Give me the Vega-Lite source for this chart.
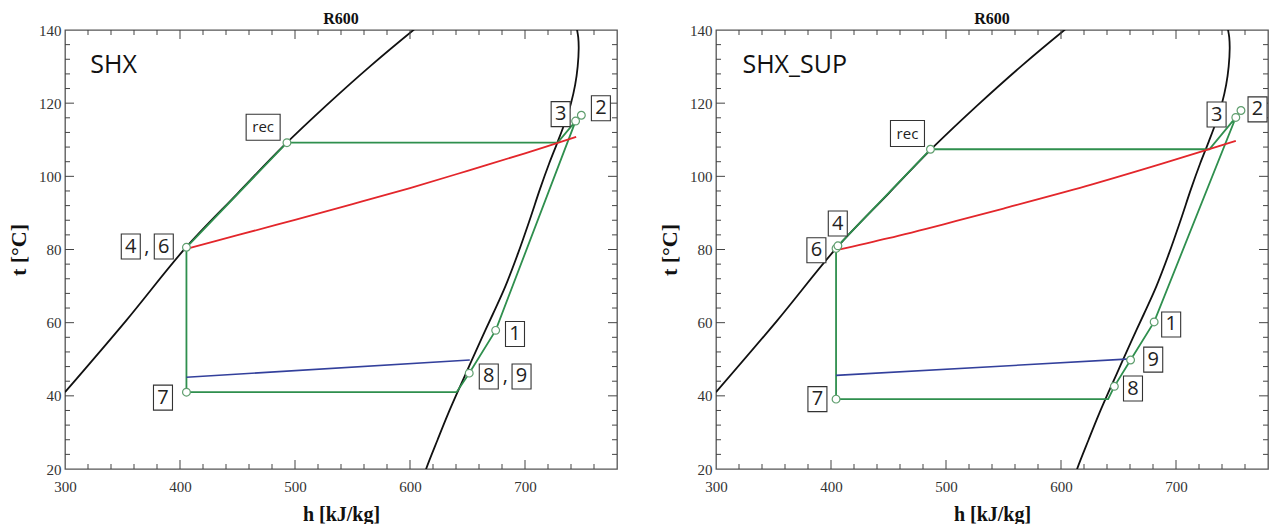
{
  "$schema": "https://vega.github.io/schema/vega-lite/v6.json",
  "background": "white",
  "padding": {"left": 6, "top": 10, "right": 0, "bottom": 0},
  "spacing": 39,
  "config": {
    "view": {"stroke": "#555", "strokeWidth": 1.3},
    "axis": {"grid": false, "domain": false, "ticks": false}
  },
  "datasets": {
    "xt": [
      {"v": 320, "major": false}, {"v": 340, "major": false}, {"v": 360, "major": false}, {"v": 380, "major": false},
      {"v": 400, "major": true}, {"v": 420, "major": false}, {"v": 440, "major": false}, {"v": 460, "major": false},
      {"v": 480, "major": false}, {"v": 500, "major": true}, {"v": 520, "major": false}, {"v": 540, "major": false},
      {"v": 560, "major": false}, {"v": 580, "major": false}, {"v": 600, "major": true}, {"v": 620, "major": false},
      {"v": 640, "major": false}, {"v": 660, "major": false}, {"v": 680, "major": false}, {"v": 700, "major": true},
      {"v": 720, "major": false}, {"v": 740, "major": false}, {"v": 760, "major": false}
    ],
    "yt": [
      {"v": 24, "major": false}, {"v": 28, "major": false}, {"v": 32, "major": false}, {"v": 36, "major": false},
      {"v": 40, "major": true}, {"v": 44, "major": false}, {"v": 48, "major": false}, {"v": 52, "major": false},
      {"v": 56, "major": false}, {"v": 60, "major": true}, {"v": 64, "major": false}, {"v": 68, "major": false},
      {"v": 72, "major": false}, {"v": 76, "major": false}, {"v": 80, "major": true}, {"v": 84, "major": false},
      {"v": 88, "major": false}, {"v": 92, "major": false}, {"v": 96, "major": false}, {"v": 100, "major": true},
      {"v": 104, "major": false}, {"v": 108, "major": false}, {"v": 112, "major": false}, {"v": 116, "major": false},
      {"v": 120, "major": true}, {"v": 124, "major": false}, {"v": 128, "major": false}, {"v": 132, "major": false},
      {"v": 136, "major": false}
    ],
    "sat": [
      {"branch": "liq", "i": 0, "h": 300, "t": 41},
      {"branch": "liq", "i": 1, "h": 353, "t": 60.5},
      {"branch": "liq", "i": 2, "h": 405, "t": 80.5},
      {"branch": "liq", "i": 3, "h": 450, "t": 95.3},
      {"branch": "liq", "i": 4, "h": 490, "t": 108.3},
      {"branch": "liq", "i": 5, "h": 528, "t": 119.6},
      {"branch": "liq", "i": 6, "h": 565, "t": 130},
      {"branch": "liq", "i": 7, "h": 603, "t": 140},
      {"branch": "liq", "i": 8, "h": 615, "t": 143},
      {"branch": "vap", "i": 0, "h": 610, "t": 16},
      {"branch": "vap", "i": 1, "h": 614, "t": 20},
      {"branch": "vap", "i": 2, "h": 624, "t": 28},
      {"branch": "vap", "i": 3, "h": 633, "t": 35},
      {"branch": "vap", "i": 4, "h": 642, "t": 41.5},
      {"branch": "vap", "i": 5, "h": 652, "t": 48.5},
      {"branch": "vap", "i": 6, "h": 662, "t": 55.5},
      {"branch": "vap", "i": 7, "h": 672, "t": 62.3},
      {"branch": "vap", "i": 8, "h": 683, "t": 70},
      {"branch": "vap", "i": 9, "h": 694, "t": 79},
      {"branch": "vap", "i": 10, "h": 704, "t": 88},
      {"branch": "vap", "i": 11, "h": 713, "t": 96.5},
      {"branch": "vap", "i": 12, "h": 721, "t": 103.5},
      {"branch": "vap", "i": 13, "h": 728.5, "t": 109.5},
      {"branch": "vap", "i": 14, "h": 735, "t": 115},
      {"branch": "vap", "i": 15, "h": 740, "t": 120},
      {"branch": "vap", "i": 16, "h": 743.6, "t": 125},
      {"branch": "vap", "i": 17, "h": 745.8, "t": 130},
      {"branch": "vap", "i": 18, "h": 746.7, "t": 135},
      {"branch": "vap", "i": 19, "h": 746.3, "t": 138},
      {"branch": "vap", "i": 20, "h": 745.3, "t": 140},
      {"branch": "vap", "i": 21, "h": 744.5, "t": 141.5}
    ],
    "cycle": [
      {"panel": "SHX", "i": 0, "h": 493, "t": 109.2},
      {"panel": "SHX", "i": 1, "h": 728.4, "t": 109.2},
      {"panel": "SHX", "i": 2, "h": 744, "t": 115.1},
      {"panel": "SHX", "i": 3, "h": 749, "t": 116.7},
      {"panel": "SHX", "i": 4, "h": 744, "t": 115.1},
      {"panel": "SHX", "i": 5, "h": 674.5, "t": 57.9},
      {"panel": "SHX", "i": 6, "h": 651.5, "t": 46.2},
      {"panel": "SHX", "i": 7, "h": 640.5, "t": 41},
      {"panel": "SHX", "i": 8, "h": 405.6, "t": 41},
      {"panel": "SHX", "i": 9, "h": 405.6, "t": 80.6},
      {"panel": "SHX", "i": 10, "h": 493, "t": 109.2},
      {"panel": "SHX_SUP", "i": 0, "h": 486.5, "t": 107.4},
      {"panel": "SHX_SUP", "i": 1, "h": 729, "t": 107.4},
      {"panel": "SHX_SUP", "i": 2, "h": 752, "t": 116.1},
      {"panel": "SHX_SUP", "i": 3, "h": 756.5, "t": 118},
      {"panel": "SHX_SUP", "i": 4, "h": 752, "t": 116.1},
      {"panel": "SHX_SUP", "i": 5, "h": 681, "t": 60.2},
      {"panel": "SHX_SUP", "i": 6, "h": 660.5, "t": 49.8},
      {"panel": "SHX_SUP", "i": 7, "h": 646.4, "t": 42.6},
      {"panel": "SHX_SUP", "i": 8, "h": 641, "t": 39.1},
      {"panel": "SHX_SUP", "i": 9, "h": 404.4, "t": 39.1},
      {"panel": "SHX_SUP", "i": 10, "h": 404.4, "t": 80.3},
      {"panel": "SHX_SUP", "i": 11, "h": 406, "t": 81},
      {"panel": "SHX_SUP", "i": 12, "h": 486.5, "t": 107.4}
    ],
    "red": [
      {"panel": "SHX", "i": 0, "h": 405.6, "t": 80.2},
      {"panel": "SHX", "i": 1, "h": 450, "t": 83.9},
      {"panel": "SHX", "i": 2, "h": 500, "t": 88.1},
      {"panel": "SHX", "i": 3, "h": 550, "t": 92.4},
      {"panel": "SHX", "i": 4, "h": 600, "t": 96.8},
      {"panel": "SHX", "i": 5, "h": 650, "t": 101.5},
      {"panel": "SHX", "i": 6, "h": 700, "t": 106.3},
      {"panel": "SHX", "i": 7, "h": 744.5, "t": 110.8},
      {"panel": "SHX_SUP", "i": 0, "h": 404.4, "t": 79.8},
      {"panel": "SHX_SUP", "i": 1, "h": 450, "t": 83.1},
      {"panel": "SHX_SUP", "i": 2, "h": 498, "t": 86.9},
      {"panel": "SHX_SUP", "i": 3, "h": 550, "t": 91.2},
      {"panel": "SHX_SUP", "i": 4, "h": 621.7, "t": 97.3},
      {"panel": "SHX_SUP", "i": 5, "h": 680, "t": 102.7},
      {"panel": "SHX_SUP", "i": 6, "h": 727.5, "t": 107.3},
      {"panel": "SHX_SUP", "i": 7, "h": 752, "t": 109.7}
    ],
    "blue": [
      {"panel": "SHX", "i": 0, "h": 405.6, "t": 45.1},
      {"panel": "SHX", "i": 1, "h": 652, "t": 49.8},
      {"panel": "SHX_SUP", "i": 0, "h": 404.4, "t": 45.6},
      {"panel": "SHX_SUP", "i": 1, "h": 660.5, "t": 50.1}
    ],
    "pts": [
      {"panel": "SHX", "h": 493, "t": 109.2},
      {"panel": "SHX", "h": 744, "t": 115.1},
      {"panel": "SHX", "h": 749, "t": 116.7},
      {"panel": "SHX", "h": 674.5, "t": 57.9},
      {"panel": "SHX", "h": 651.5, "t": 46.2},
      {"panel": "SHX", "h": 405.6, "t": 41},
      {"panel": "SHX", "h": 405.6, "t": 80.6},
      {"panel": "SHX_SUP", "h": 486.5, "t": 107.4},
      {"panel": "SHX_SUP", "h": 752, "t": 116.1},
      {"panel": "SHX_SUP", "h": 756.5, "t": 118},
      {"panel": "SHX_SUP", "h": 681, "t": 60.2},
      {"panel": "SHX_SUP", "h": 660.5, "t": 49.8},
      {"panel": "SHX_SUP", "h": 646.4, "t": 42.6},
      {"panel": "SHX_SUP", "h": 404.4, "t": 39.1},
      {"panel": "SHX_SUP", "h": 404.4, "t": 80.3},
      {"panel": "SHX_SUP", "h": 406, "t": 81}
    ],
    "labels": [
      {"panel": "SHX", "kind": "rec", "text": "rec", "h": 472.3, "t": 113.4},
      {"panel": "SHX", "kind": "d", "text": "3", "h": 731, "t": 117},
      {"panel": "SHX", "kind": "d", "text": "2", "h": 766, "t": 118.6},
      {"panel": "SHX", "kind": "d", "text": "1", "h": 691.3, "t": 56.9},
      {"panel": "SHX", "kind": "d", "text": "8", "h": 668.5, "t": 45.3},
      {"panel": "SHX", "kind": "c", "text": ",", "h": 683, "t": 45.3},
      {"panel": "SHX", "kind": "d", "text": "9", "h": 697, "t": 45.3},
      {"panel": "SHX", "kind": "d", "text": "7", "h": 385.2, "t": 39.5},
      {"panel": "SHX", "kind": "d", "text": "4", "h": 357.2, "t": 80.8},
      {"panel": "SHX", "kind": "c", "text": ",", "h": 371.1, "t": 80.8},
      {"panel": "SHX", "kind": "d", "text": "6", "h": 385.9, "t": 80.8},
      {"panel": "SHX_SUP", "kind": "rec", "text": "rec", "h": 466.5, "t": 111.7},
      {"panel": "SHX_SUP", "kind": "d", "text": "3", "h": 735.3, "t": 116.9},
      {"panel": "SHX_SUP", "kind": "d", "text": "2", "h": 770.9, "t": 118.3},
      {"panel": "SHX_SUP", "kind": "d", "text": "4", "h": 405.9, "t": 87.1},
      {"panel": "SHX_SUP", "kind": "d", "text": "6", "h": 387.3, "t": 79.8},
      {"panel": "SHX_SUP", "kind": "d", "text": "1", "h": 695.8, "t": 59.5},
      {"panel": "SHX_SUP", "kind": "d", "text": "9", "h": 680.2, "t": 49.9},
      {"panel": "SHX_SUP", "kind": "d", "text": "8", "h": 662.6, "t": 42},
      {"panel": "SHX_SUP", "kind": "d", "text": "7", "h": 388.2, "t": 39.1}
    ],
    "names": [
      {"panel": "SHX", "text": "SHX", "h": 322, "t": 130.5},
      {"panel": "SHX_SUP", "text": "SHX_SUP", "h": 323, "t": 130.5}
    ]
  },
  "hconcat": [
    {
      "width": 552,
      "height": 439,
      "title": {"text": "R600", "font": "Liberation Serif", "fontSize": 16, "fontWeight": "bold", "color": "#111", "offset": -4, "anchor": "middle"},
      "resolve": {"axis": {"x": "independent", "y": "independent"}},
      "layer": [
        {
          "data": {"name": "sat"},
          "mark": {"type": "line", "color": "#111", "strokeWidth": 1.8, "clip": true, "interpolate": "catmull-rom"},
          "encoding": {
            "x": {"field": "h", "type": "quantitative", "scale": {"domain": [300, 780], "nice": false, "zero": false},
              "axis": {"orient": "bottom", "values": [300, 400, 500, 600, 700], "labelOverlap": false, "labelFlush": false,
                "labelPadding": 10, "labelFont": "Liberation Serif", "labelFontSize": 15, "labelColor": "#333",
                "title": "h [kJ/kg]", "titleFont": "Liberation Serif", "titleFontSize": 20, "titleFontWeight": "bold", "titleColor": "#111", "titlePadding": 10}},
            "y": {"field": "t", "type": "quantitative", "scale": {"domain": [20, 140], "nice": false, "zero": false},
              "axis": {"orient": "left", "values": [20, 40, 60, 80, 100, 120, 140], "labelOverlap": false, "labelFlush": false,
                "labelPadding": 4, "labelFont": "Liberation Serif", "labelFontSize": 15, "labelColor": "#333",
                "title": "t [°C]", "titleFont": "Liberation Serif", "titleFontSize": 22, "titleFontWeight": "bold", "titleColor": "#111", "titlePadding": 8}},
            "detail": {"field": "branch"},
            "order": {"field": "i", "type": "quantitative"}
          }
        },
        {
          "data": {"name": "xt"},
          "mark": {"type": "tick", "orient": "vertical", "thickness": 1, "color": "#444", "opacity": 1, "clip": true},
          "encoding": {
            "x": {"field": "v", "type": "quantitative", "axis": null},
            "y": {"datum": 20, "type": "quantitative", "axis": null},
            "size": {"condition": {"test": "datum.major", "value": 18}, "value": 10}
          }
        },
        {
          "data": {"name": "xt"},
          "mark": {"type": "tick", "orient": "vertical", "thickness": 1, "color": "#444", "opacity": 1, "clip": true},
          "encoding": {
            "x": {"field": "v", "type": "quantitative", "axis": null},
            "y": {"datum": 140, "type": "quantitative", "axis": null},
            "size": {"condition": {"test": "datum.major", "value": 18}, "value": 10}
          }
        },
        {
          "data": {"name": "yt"},
          "mark": {"type": "tick", "orient": "horizontal", "thickness": 1, "color": "#444", "opacity": 1, "clip": true},
          "encoding": {
            "y": {"field": "v", "type": "quantitative", "axis": null},
            "x": {"datum": 300, "type": "quantitative", "axis": null},
            "size": {"condition": {"test": "datum.major", "value": 18}, "value": 10}
          }
        },
        {
          "data": {"name": "yt"},
          "mark": {"type": "tick", "orient": "horizontal", "thickness": 1, "color": "#444", "opacity": 1, "clip": true},
          "encoding": {
            "y": {"field": "v", "type": "quantitative", "axis": null},
            "x": {"datum": 780, "type": "quantitative", "axis": null},
            "size": {"condition": {"test": "datum.major", "value": 18}, "value": 10}
          }
        },
        {
          "data": {"name": "cycle"},
          "transform": [{"filter": "datum.panel === 'SHX'"}],
          "mark": {"type": "line", "color": "#2f8f4e", "strokeWidth": 1.8, "clip": true},
          "encoding": {
            "x": {"field": "h", "type": "quantitative", "axis": null},
            "y": {"field": "t", "type": "quantitative", "axis": null},
            "order": {"field": "i", "type": "quantitative"}
          }
        },
        {
          "data": {"name": "red"},
          "transform": [{"filter": "datum.panel === 'SHX'"}],
          "mark": {"type": "line", "color": "#e3262b", "strokeWidth": 1.8, "interpolate": "catmull-rom"},
          "encoding": {
            "x": {"field": "h", "type": "quantitative", "axis": null},
            "y": {"field": "t", "type": "quantitative", "axis": null},
            "order": {"field": "i", "type": "quantitative"}
          }
        },
        {
          "data": {"name": "blue"},
          "transform": [{"filter": "datum.panel === 'SHX'"}],
          "mark": {"type": "line", "color": "#33409c", "strokeWidth": 1.6},
          "encoding": {
            "x": {"field": "h", "type": "quantitative", "axis": null},
            "y": {"field": "t", "type": "quantitative", "axis": null},
            "order": {"field": "i", "type": "quantitative"}
          }
        },
        {
          "data": {"name": "pts"},
          "transform": [{"filter": "datum.panel === 'SHX'"}],
          "mark": {"type": "point", "shape": "circle", "filled": true, "fill": "white", "stroke": "#5f9e6e", "strokeWidth": 1.2, "size": 60, "opacity": 1},
          "encoding": {
            "x": {"field": "h", "type": "quantitative", "axis": null},
            "y": {"field": "t", "type": "quantitative", "axis": null}
          }
        },
        {
          "data": {"name": "labels"},
          "transform": [{"filter": "datum.panel === 'SHX' && datum.kind !== 'c'"}],
          "mark": {"type": "point", "filled": true, "fill": "white", "stroke": "#333", "strokeWidth": 1.1, "size": 625, "opacity": 1},
          "encoding": {
            "x": {"field": "h", "type": "quantitative", "axis": null},
            "y": {"field": "t", "type": "quantitative", "axis": null},
            "shape": {"field": "kind", "type": "nominal", "scale": {"domain": ["d", "rec"], "range": ["M-0.76,-1H0.76V1H-0.76Z", "M-1.36,-1.04H1.36V1.04H-1.36Z"]}, "legend": null}
          }
        },
        {
          "data": {"name": "labels"},
          "transform": [{"filter": "datum.panel === 'SHX'"}],
          "mark": {"type": "text", "font": "Open Sans", "color": "#222", "align": "center", "baseline": "middle"},
          "encoding": {
            "x": {"field": "h", "type": "quantitative", "axis": null},
            "y": {"field": "t", "type": "quantitative", "axis": null},
            "text": {"field": "text"},
            "size": {"condition": {"test": "datum.kind === 'rec'", "value": 15}, "value": 20}
          }
        },
        {
          "data": {"name": "names"},
          "transform": [{"filter": "datum.panel === 'SHX'"}],
          "mark": {"type": "text", "font": "Open Sans", "fontSize": 25, "color": "#111", "align": "left", "baseline": "middle"},
          "encoding": {
            "x": {"field": "h", "type": "quantitative", "axis": null},
            "y": {"field": "t", "type": "quantitative", "axis": null},
            "text": {"field": "text"}
          }
        }
      ]
    },
    {
      "width": 552,
      "height": 439,
      "title": {"text": "R600", "font": "Liberation Serif", "fontSize": 16, "fontWeight": "bold", "color": "#111", "offset": -4, "anchor": "middle"},
      "resolve": {"axis": {"x": "independent", "y": "independent"}},
      "layer": [
        {
          "data": {"name": "sat"},
          "mark": {"type": "line", "color": "#111", "strokeWidth": 1.8, "clip": true, "interpolate": "catmull-rom"},
          "encoding": {
            "x": {"field": "h", "type": "quantitative", "scale": {"domain": [300, 780], "nice": false, "zero": false},
              "axis": {"orient": "bottom", "values": [300, 400, 500, 600, 700], "labelOverlap": false, "labelFlush": false,
                "labelPadding": 10, "labelFont": "Liberation Serif", "labelFontSize": 15, "labelColor": "#333",
                "title": "h [kJ/kg]", "titleFont": "Liberation Serif", "titleFontSize": 20, "titleFontWeight": "bold", "titleColor": "#111", "titlePadding": 10}},
            "y": {"field": "t", "type": "quantitative", "scale": {"domain": [20, 140], "nice": false, "zero": false},
              "axis": {"orient": "left", "values": [20, 40, 60, 80, 100, 120, 140], "labelOverlap": false, "labelFlush": false,
                "labelPadding": 4, "labelFont": "Liberation Serif", "labelFontSize": 15, "labelColor": "#333",
                "title": "t [°C]", "titleFont": "Liberation Serif", "titleFontSize": 22, "titleFontWeight": "bold", "titleColor": "#111", "titlePadding": 8}},
            "detail": {"field": "branch"},
            "order": {"field": "i", "type": "quantitative"}
          }
        },
        {
          "data": {"name": "xt"},
          "mark": {"type": "tick", "orient": "vertical", "thickness": 1, "color": "#444", "opacity": 1, "clip": true},
          "encoding": {
            "x": {"field": "v", "type": "quantitative", "axis": null},
            "y": {"datum": 20, "type": "quantitative", "axis": null},
            "size": {"condition": {"test": "datum.major", "value": 18}, "value": 10}
          }
        },
        {
          "data": {"name": "xt"},
          "mark": {"type": "tick", "orient": "vertical", "thickness": 1, "color": "#444", "opacity": 1, "clip": true},
          "encoding": {
            "x": {"field": "v", "type": "quantitative", "axis": null},
            "y": {"datum": 140, "type": "quantitative", "axis": null},
            "size": {"condition": {"test": "datum.major", "value": 18}, "value": 10}
          }
        },
        {
          "data": {"name": "yt"},
          "mark": {"type": "tick", "orient": "horizontal", "thickness": 1, "color": "#444", "opacity": 1, "clip": true},
          "encoding": {
            "y": {"field": "v", "type": "quantitative", "axis": null},
            "x": {"datum": 300, "type": "quantitative", "axis": null},
            "size": {"condition": {"test": "datum.major", "value": 18}, "value": 10}
          }
        },
        {
          "data": {"name": "yt"},
          "mark": {"type": "tick", "orient": "horizontal", "thickness": 1, "color": "#444", "opacity": 1, "clip": true},
          "encoding": {
            "y": {"field": "v", "type": "quantitative", "axis": null},
            "x": {"datum": 780, "type": "quantitative", "axis": null},
            "size": {"condition": {"test": "datum.major", "value": 18}, "value": 10}
          }
        },
        {
          "data": {"name": "cycle"},
          "transform": [{"filter": "datum.panel === 'SHX_SUP'"}],
          "mark": {"type": "line", "color": "#2f8f4e", "strokeWidth": 1.8, "clip": true},
          "encoding": {
            "x": {"field": "h", "type": "quantitative", "axis": null},
            "y": {"field": "t", "type": "quantitative", "axis": null},
            "order": {"field": "i", "type": "quantitative"}
          }
        },
        {
          "data": {"name": "red"},
          "transform": [{"filter": "datum.panel === 'SHX_SUP'"}],
          "mark": {"type": "line", "color": "#e3262b", "strokeWidth": 1.8, "interpolate": "catmull-rom"},
          "encoding": {
            "x": {"field": "h", "type": "quantitative", "axis": null},
            "y": {"field": "t", "type": "quantitative", "axis": null},
            "order": {"field": "i", "type": "quantitative"}
          }
        },
        {
          "data": {"name": "blue"},
          "transform": [{"filter": "datum.panel === 'SHX_SUP'"}],
          "mark": {"type": "line", "color": "#33409c", "strokeWidth": 1.6},
          "encoding": {
            "x": {"field": "h", "type": "quantitative", "axis": null},
            "y": {"field": "t", "type": "quantitative", "axis": null},
            "order": {"field": "i", "type": "quantitative"}
          }
        },
        {
          "data": {"name": "pts"},
          "transform": [{"filter": "datum.panel === 'SHX_SUP'"}],
          "mark": {"type": "point", "shape": "circle", "filled": true, "fill": "white", "stroke": "#5f9e6e", "strokeWidth": 1.2, "size": 60, "opacity": 1},
          "encoding": {
            "x": {"field": "h", "type": "quantitative", "axis": null},
            "y": {"field": "t", "type": "quantitative", "axis": null}
          }
        },
        {
          "data": {"name": "labels"},
          "transform": [{"filter": "datum.panel === 'SHX_SUP' && datum.kind !== 'c'"}],
          "mark": {"type": "point", "filled": true, "fill": "white", "stroke": "#333", "strokeWidth": 1.1, "size": 625, "opacity": 1},
          "encoding": {
            "x": {"field": "h", "type": "quantitative", "axis": null},
            "y": {"field": "t", "type": "quantitative", "axis": null},
            "shape": {"field": "kind", "type": "nominal", "scale": {"domain": ["d", "rec"], "range": ["M-0.76,-1H0.76V1H-0.76Z", "M-1.36,-1.04H1.36V1.04H-1.36Z"]}, "legend": null}
          }
        },
        {
          "data": {"name": "labels"},
          "transform": [{"filter": "datum.panel === 'SHX_SUP'"}],
          "mark": {"type": "text", "font": "Open Sans", "color": "#222", "align": "center", "baseline": "middle"},
          "encoding": {
            "x": {"field": "h", "type": "quantitative", "axis": null},
            "y": {"field": "t", "type": "quantitative", "axis": null},
            "text": {"field": "text"},
            "size": {"condition": {"test": "datum.kind === 'rec'", "value": 15}, "value": 20}
          }
        },
        {
          "data": {"name": "names"},
          "transform": [{"filter": "datum.panel === 'SHX_SUP'"}],
          "mark": {"type": "text", "font": "Open Sans", "fontSize": 25, "color": "#111", "align": "left", "baseline": "middle"},
          "encoding": {
            "x": {"field": "h", "type": "quantitative", "axis": null},
            "y": {"field": "t", "type": "quantitative", "axis": null},
            "text": {"field": "text"}
          }
        }
      ]
    }
  ]
}
